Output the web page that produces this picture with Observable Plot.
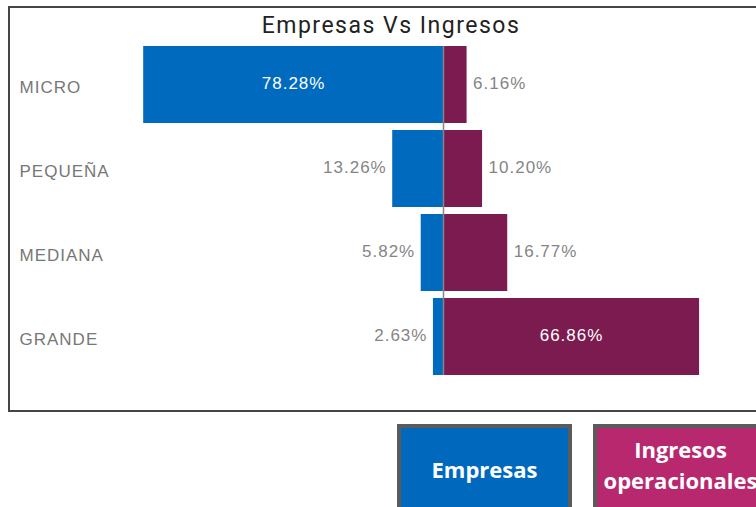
<!DOCTYPE html>
<html>
<head>
<meta charset="utf-8">
<script src="https://cdn.jsdelivr.net/npm/d3@7"></script>
<script src="https://cdn.jsdelivr.net/npm/@observablehq/plot@0.6"></script>
<style>
  html, body { margin: 0; padding: 0; background: #fff; }
  body { width: 756px; height: 507px; overflow: hidden; position: relative; }
  #frame { position: absolute; left: 8px; top: 6px; width: 770px; height: 406px; border: 2px solid #454545; box-sizing: border-box; }
  #title { position: absolute; left: 0; top: 10px; width: 782px; text-align: center; font-family: Roboto, sans-serif; font-size: 23px; letter-spacing: 1.5px; color: #222; line-height: 32px; }
  #chart { position: absolute; left: 0; top: 36px; }
  .leg { position: absolute; top: 424px; width: 175px; height: 100px; border: 4px solid #5b5b5b; box-sizing: border-box; color: #fff; font-family: "Open Sans", "Noto Sans", sans-serif; font-weight: 700; font-size: 22px; text-align: center; line-height: 31px; white-space: nowrap; }
  #legE { left: 397px; background: #0069be; }
  #legI { left: 593px; background: #b8286f; }
</style>
</head>
<body>
<div id="frame"></div>
<div id="title">Empresas Vs Ingresos</div>
<div id="chart"></div>
<div class="leg" id="legE"><div style="padding-top:26px">Empresas</div></div>
<div class="leg" id="legI"><div style="padding-top:6px">Ingresos<br>operacionales</div></div>
<script>
const categories = ["MICRO", "PEQUEÑA", "MEDIANA", "GRANDE"];
const empresas = [78.28, 13.26, 5.82, 2.63];
const ingresos = [6.16, 10.20, 16.77, 66.86];

const blue = "#006abe";
const purple = "#7b1b4f";
const data = categories.map((c, i) => ({cat: c, emp: empresas[i], ing: ingresos[i]}));
const fmt = v => v.toFixed(2) + "%";
const inside = 30;

const chart = Plot.plot({
  width: 756,
  height: 360,
  marginLeft: 0, marginRight: 0, marginTop: 10, marginBottom: 21,
  style: {fontFamily: "'Liberation Sans', Arial, sans-serif", fontSize: "17px", letterSpacing: "1px", background: "transparent"},
  x: {domain: [-80, 80], range: [443 - 306.4, 443 + 306.4], axis: null},
  y: {domain: categories, range: [10, 339], paddingInner: 7 / 84, paddingOuter: 0, axis: null},
  marks: [
    Plot.barX(data, {x1: 0, x2: d => -d.emp, y: "cat", fill: blue}),
    Plot.barX(data, {x1: 0, x2: d => d.ing, y: "cat", fill: purple}),
    Plot.ruleX([0], {stroke: "#858585", strokeWidth: 1.5}),
    Plot.text(data.filter(d => d.emp >= inside), {x: d => -d.emp / 2, y: "cat", text: d => fmt(d.emp), fill: "#fff", dy: -1}),
    Plot.text(data.filter(d => d.emp < inside), {x: d => -d.emp, y: "cat", text: d => fmt(d.emp), fill: "#858585", textAnchor: "end", dx: -6, dy: -1}),
    Plot.text(data.filter(d => d.ing >= inside), {x: d => d.ing / 2, y: "cat", text: d => fmt(d.ing), fill: "#fff", dy: -1}),
    Plot.text(data.filter(d => d.ing < inside), {x: d => d.ing, y: "cat", text: d => fmt(d.ing), fill: "#858585", textAnchor: "start", dx: 6, dy: -1}),
    Plot.text(categories, {y: d => d, frameAnchor: "left", textAnchor: "start", dx: 19, dy: 3, fill: "#777"})
  ]
});
document.getElementById("chart").appendChild(chart);
</script>
</body>
</html>
